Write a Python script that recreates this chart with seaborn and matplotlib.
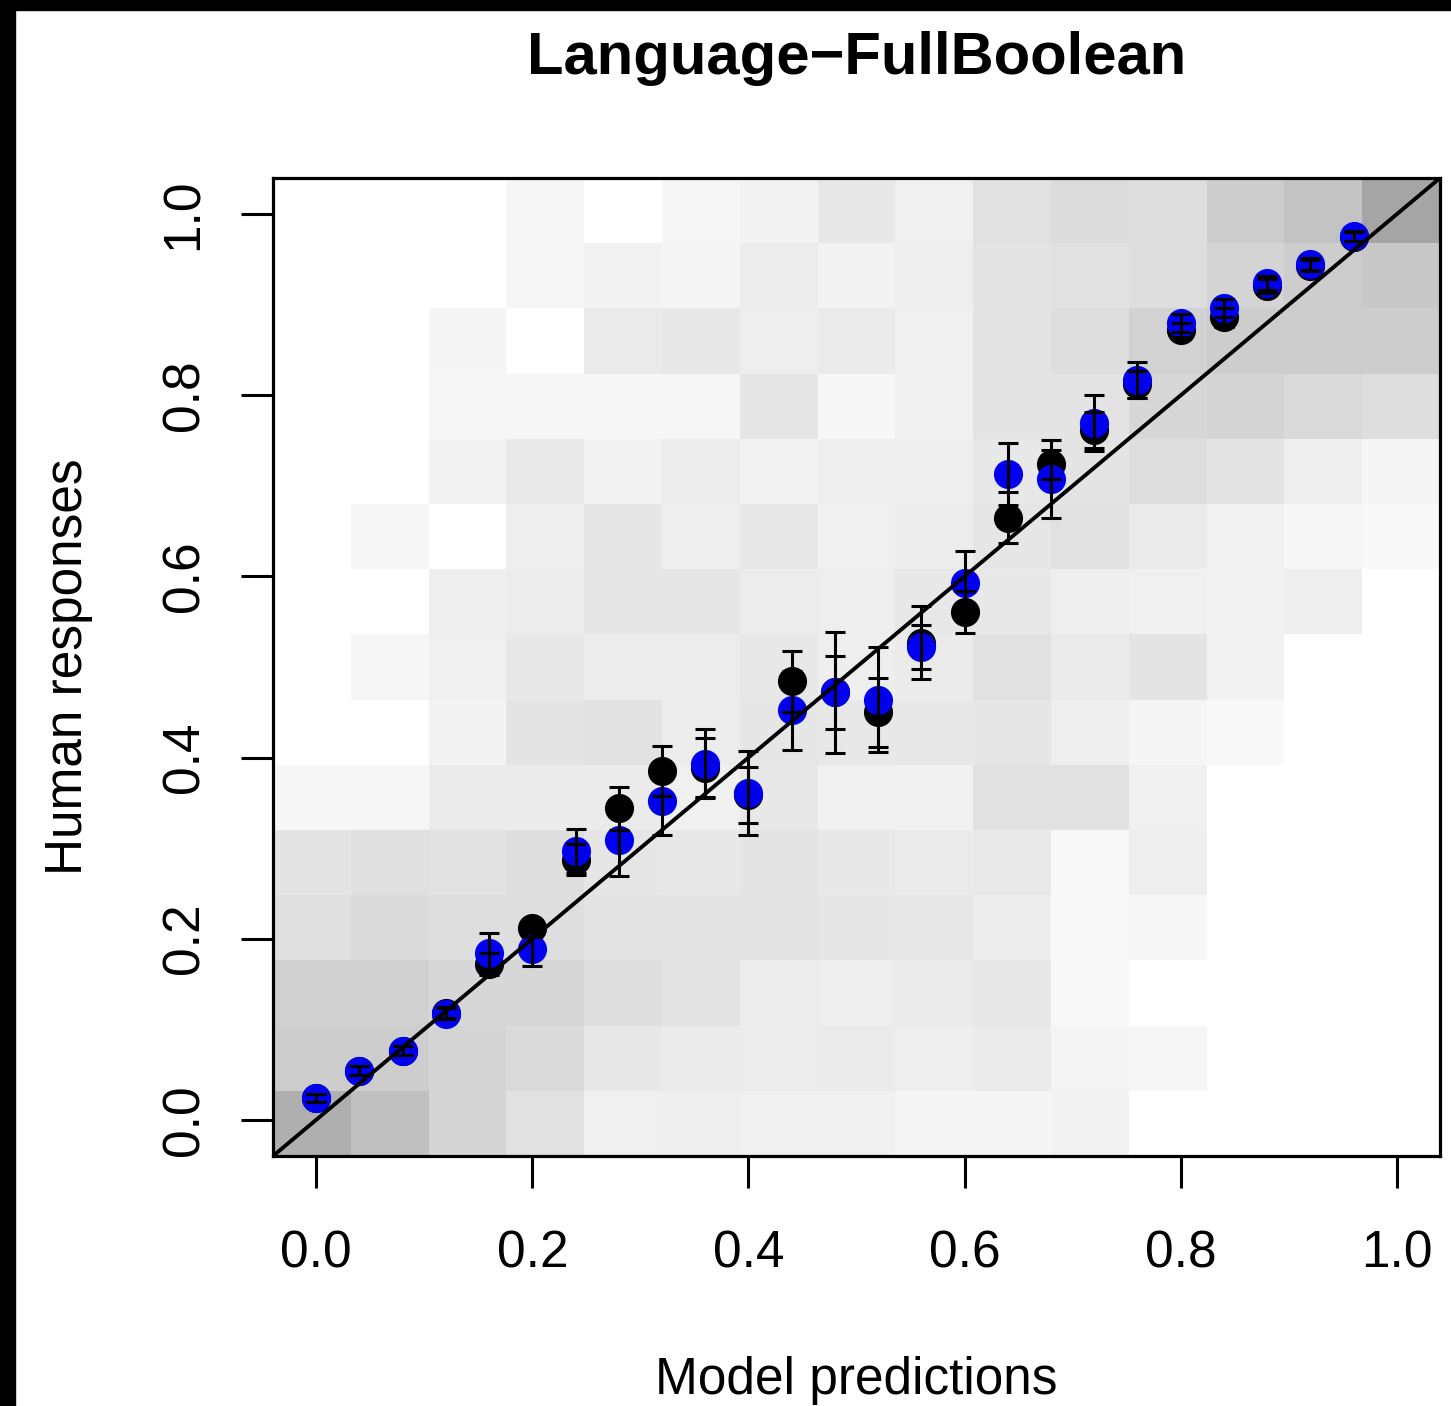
import numpy as np
import seaborn as sns
import matplotlib
matplotlib.use("Agg")
import matplotlib.pyplot as plt
from matplotlib.colors import LinearSegmentedColormap
from matplotlib.patches import Rectangle

# ---------------- data ----------------
title = "Language\u2212FullBoolean"
x_label = "Model predictions"
y_label = "Human responses"
tick_values = [0.0, 0.2, 0.4, 0.6, 0.8, 1.0]
tick_labels = ["0.0", "0.2", "0.4", "0.6", "0.8", "1.0"]

model_pred = [0.00, 0.04, 0.08, 0.12, 0.16, 0.20, 0.24, 0.28, 0.32, 0.36,
              0.40, 0.44, 0.48, 0.52, 0.56, 0.60, 0.64, 0.68, 0.72, 0.76,
              0.80, 0.84, 0.88, 0.92, 0.96]

human_black = [0.024, 0.054, 0.076, 0.118, 0.172, 0.212, 0.287, 0.344, 0.385, 0.389,
               0.359, 0.484, 0.472, 0.450, 0.527, 0.561, 0.665, 0.724, 0.762, 0.812,
               0.872, 0.886, 0.921, 0.943, 0.975]
human_black_err = [0.004, 0.005, 0.005, 0.006, 0.012, 0.010, 0.017, 0.024, 0.028, 0.033,
                   0.031, 0.034, 0.040, 0.038, 0.040, 0.023, 0.028, 0.016, 0.020, 0.015,
                   0.008, 0.010, 0.008, 0.006, 0.005]

human_blue = [0.024, 0.054, 0.076, 0.117, 0.184, 0.189, 0.297, 0.309, 0.352, 0.393,
              0.361, 0.452, 0.472, 0.464, 0.522, 0.593, 0.713, 0.708, 0.769, 0.817,
              0.880, 0.896, 0.924, 0.945, 0.976]
human_blue_err = [0.004, 0.005, 0.005, 0.006, 0.022, 0.019, 0.024, 0.040, 0.038, 0.038,
                  0.046, 0.044, 0.067, 0.058, 0.024, 0.035, 0.034, 0.043, 0.031, 0.020,
                  0.010, 0.010, 0.008, 0.007, 0.006]

# density of the 15 x 15 background grid (darkness 0..255),
# rows from top (high human response) to bottom, columns left to right
density_grid = [
    [0, 0, 0, 9, 0, 9, 12, 23, 15, 30, 35, 33, 50, 60, 90],
    [0, 0, 0, 9, 13, 11, 19, 12, 17, 27, 30, 33, 43, 50, 55],
    [0, 0, 10, 0, 21, 23, 17, 20, 15, 27, 33, 45, 50, 50, 50],
    [0, 0, 9, 9, 9, 9, 25, 8, 15, 27, 27, 40, 43, 37, 33],
    [0, 0, 12, 22, 13, 19, 12, 17, 17, 23, 27, 33, 27, 17, 10],
    [0, 9, 0, 17, 25, 17, 23, 15, 19, 25, 30, 20, 13, 8, 7],
    [0, 0, 17, 19, 25, 25, 19, 17, 23, 23, 17, 15, 13, 17, 0],
    [0, 9, 15, 23, 19, 19, 23, 17, 20, 30, 20, 27, 13, 0, 0],
    [0, 0, 12, 27, 29, 19, 25, 23, 23, 25, 17, 10, 7, 0, 0],
    [9, 9, 20, 20, 20, 15, 23, 15, 14, 30, 30, 15, 0, 0, 0],
    [27, 31, 29, 33, 25, 23, 27, 23, 20, 22, 7, 17, 0, 0, 0],
    [31, 37, 33, 33, 27, 27, 27, 25, 23, 18, 7, 8, 0, 0, 0],
    [47, 47, 40, 40, 33, 27, 19, 17, 20, 23, 7, 0, 0, 0, 0],
    [50, 50, 42, 37, 23, 20, 19, 20, 17, 20, 11, 9, 0, 0, 0],
    [80, 63, 42, 30, 15, 17, 15, 15, 10, 10, 13, 0, 0, 0, 0],
]

# ---------------- style ----------------
sns.set_style("white")
plt.rcParams["font.family"] = ["Liberation Sans", "DejaVu Sans"]
plt.rcParams["text.color"] = "black"
plt.rcParams["axes.labelcolor"] = "black"
plt.rcParams["xtick.color"] = "black"
plt.rcParams["ytick.color"] = "black"

W, H = 1451, 1406
fig = plt.figure(figsize=(W / 100, H / 100), dpi=100)
fig.patch.set_facecolor("white")

# black strips on top / left edge of the picture
fig.patches.append(Rectangle((0, 1 - 10 / H), 1, 10 / H, transform=fig.transFigure,
                             color="black", zorder=0))
fig.patches.append(Rectangle((0, 0), 15 / W, 1, transform=fig.transFigure,
                             color="black", zorder=0))

pos = [273 / W, 1 - 1156 / H, (1440 - 273) / W, (1156 - 178) / H]

# background heat map
ax_h = fig.add_axes(pos)
cmap = LinearSegmentedColormap.from_list("wb", ["white", "black"])
sns.heatmap(np.array(density_grid), ax=ax_h, cmap=cmap, vmin=0, vmax=255,
            cbar=False, xticklabels=False, yticklabels=False)
ax_h.set_axis_off()

# foreground axes
ax = fig.add_axes(pos, facecolor="none")
ax.set_xlim(-0.04, 1.04)
ax.set_ylim(-0.04, 1.04)

sns.scatterplot(x=model_pred, y=human_black, color="black", s=440, linewidth=0,
                ax=ax, zorder=3, legend=False)
sns.scatterplot(x=model_pred, y=human_blue, color="#0000ee", s=440, linewidth=0,
                ax=ax, zorder=3.5, legend=False)
ax.errorbar(model_pred, human_black, yerr=human_black_err, fmt="none", ecolor="black",
            elinewidth=2.2, capsize=7, capthick=2.2, zorder=4)
ax.errorbar(model_pred, human_blue, yerr=human_blue_err, fmt="none", ecolor="black",
            elinewidth=2.2, capsize=7, capthick=2.2, zorder=4)
ax.plot([-0.04, 1.04], [-0.04, 1.04], color="black", lw=2.8, zorder=5)

ax.set_xticks(tick_values, tick_labels)
ax.set_yticks(tick_values, tick_labels)
ax.tick_params(direction="out", length=23, width=2.2, labelsize=37,
               colors="black", bottom=True, left=True)
ax.tick_params(axis="x", pad=30)
ax.tick_params(axis="y", pad=23, labelrotation=90)
plt.setp(ax.get_yticklabels(), va="center")
for sp in ax.spines.values():
    sp.set_visible(True)
    sp.set_linewidth(2.3)
    sp.set_color("black")

ax.set_xlabel(x_label, fontsize=37, va="baseline", color="black")
ax.xaxis.set_label_coords(0.5, (1156 - 1394) / 978)
ax.set_ylabel(y_label, fontsize=37, va="baseline", color="black")
ax.yaxis.set_label_coords((82 - 273) / 1167, 0.5)
ax.set_title(title, fontsize=43, fontweight="bold", y=(1156 - 74) / 978, pad=0,
             color="black")

fig.savefig("out.png", dpi=100)
